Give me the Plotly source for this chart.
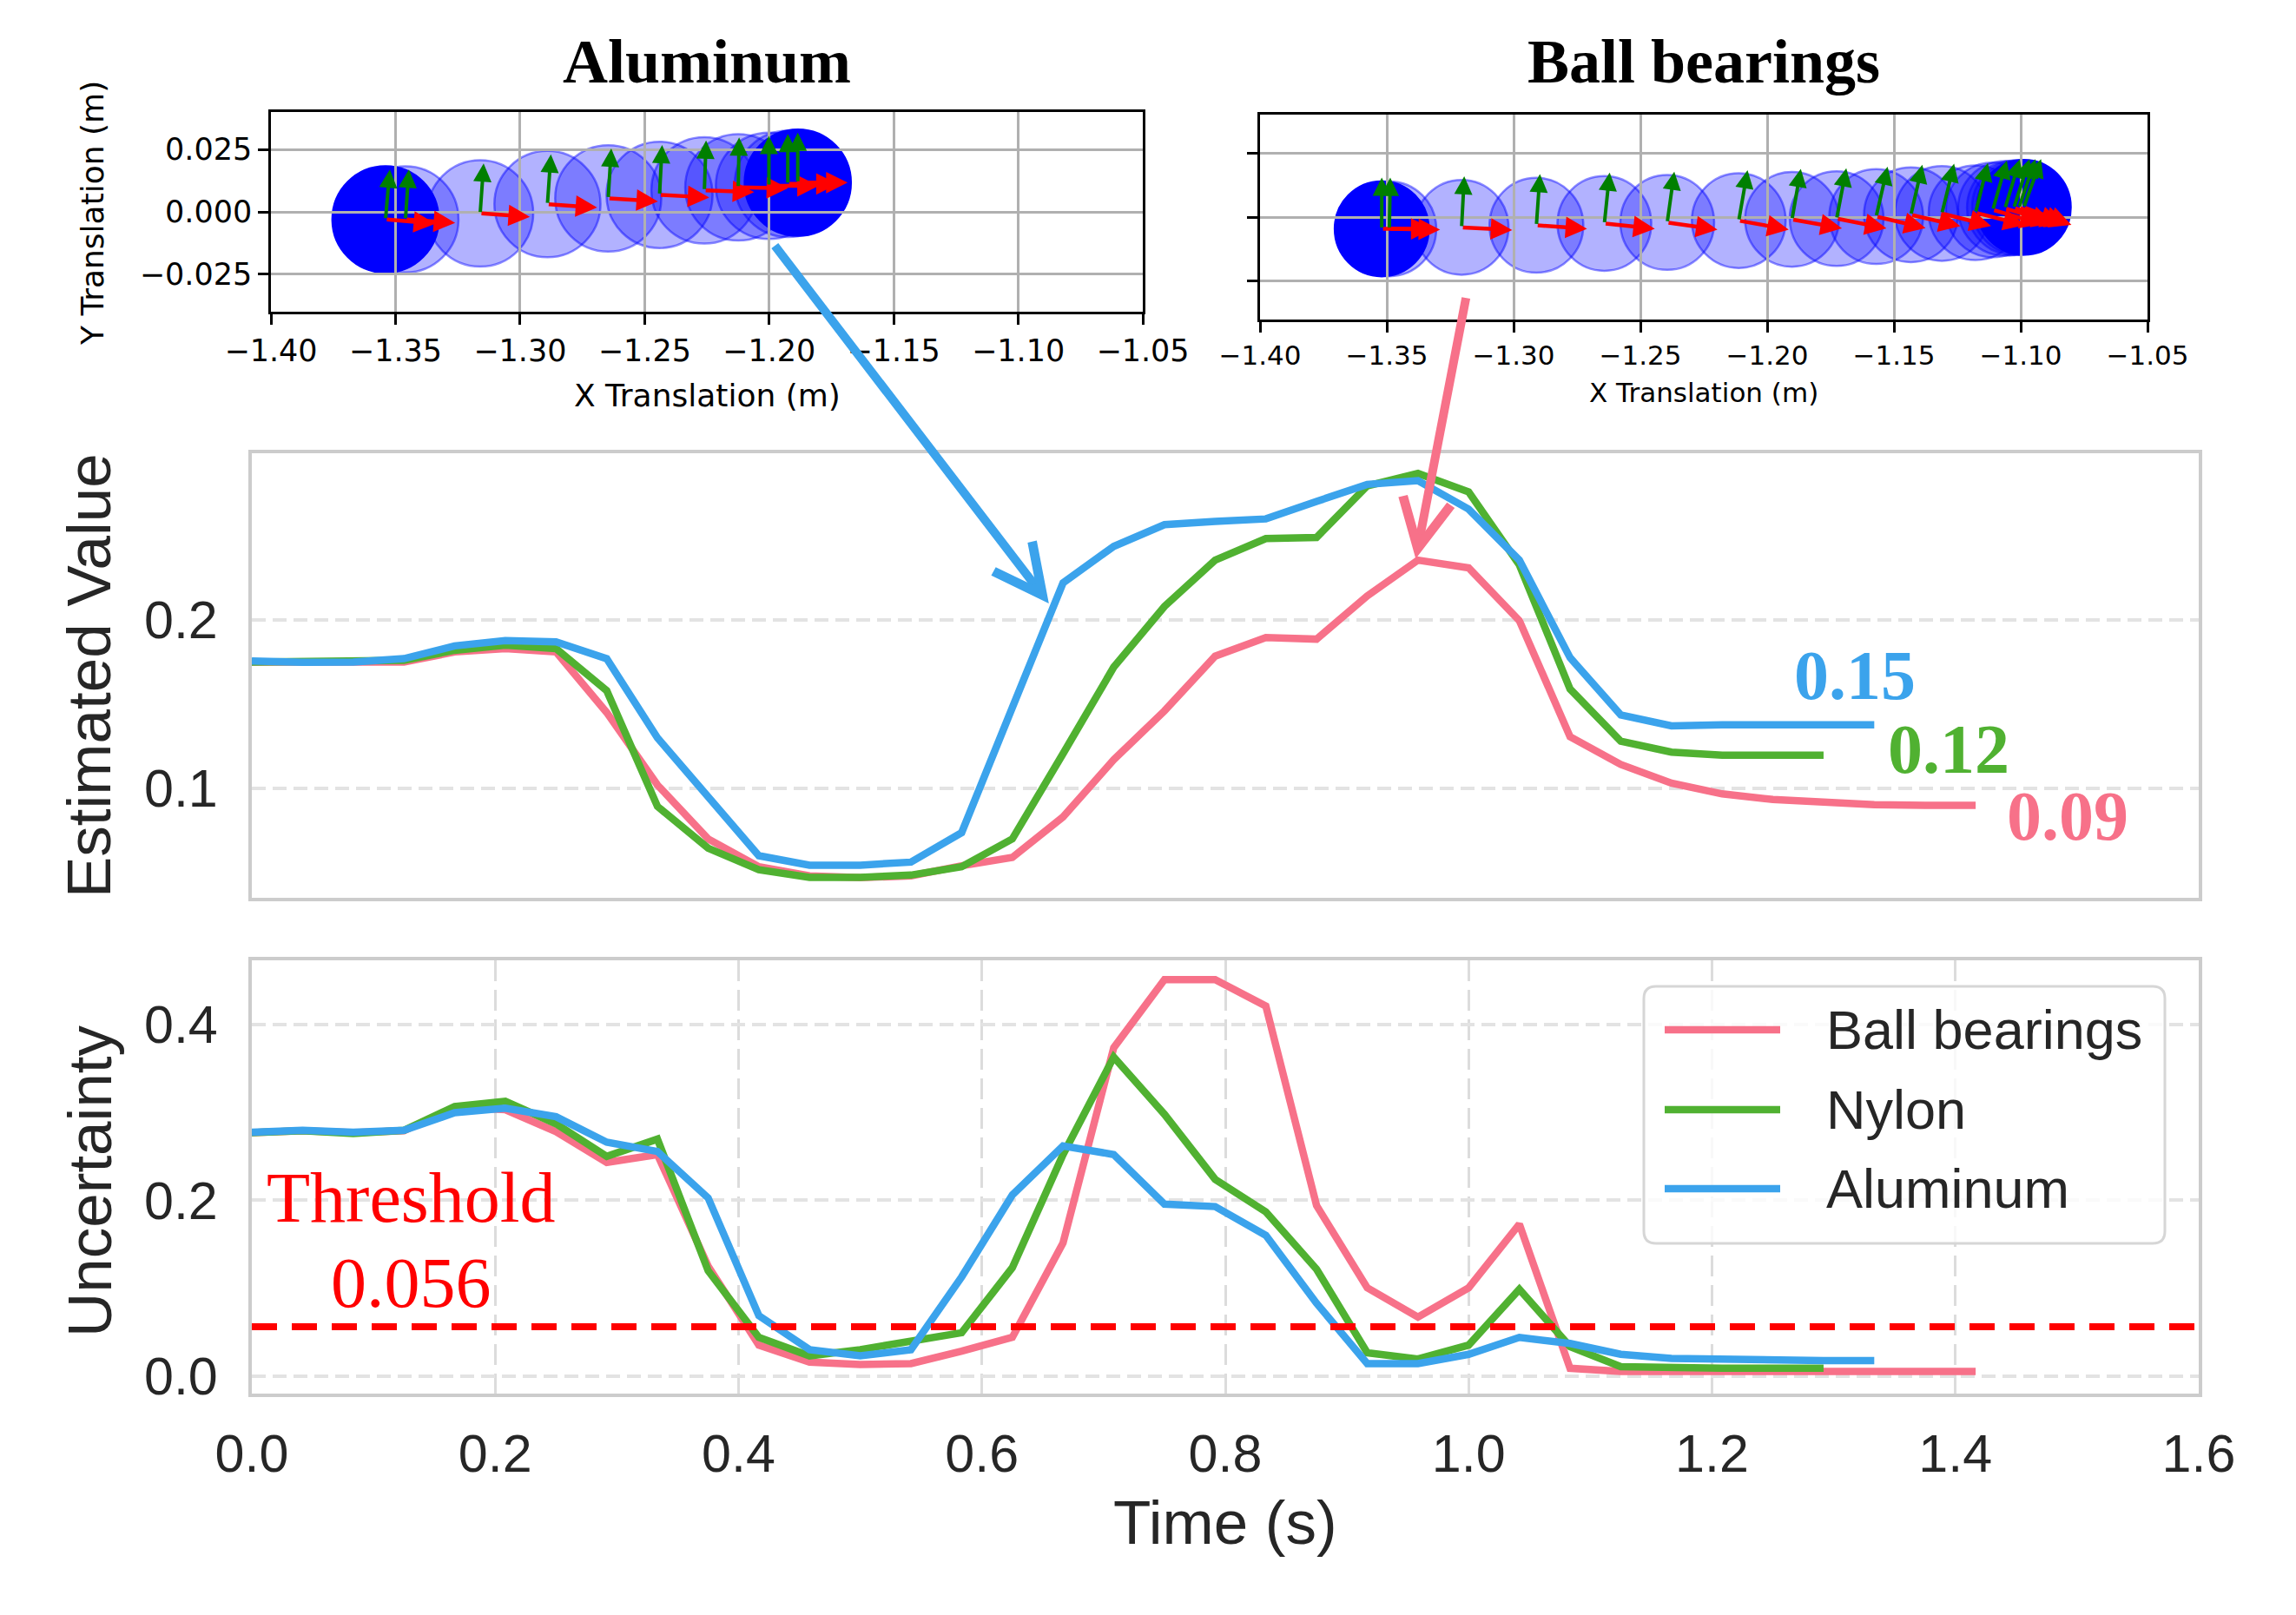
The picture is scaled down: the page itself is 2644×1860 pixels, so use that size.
import numpy as np
import plotly.graph_objects as go

FIG_W, FIG_H = 2644, 1860
SAMPLE_RATE_HZ = 24.0

# ---------------- data ----------------
series_names = ["Ball bearings", "Nylon", "Aluminum"]
series_colors = ["#f77189", "#50b131", "#3ba3ec"]

est_ball = [0.175, 0.175, 0.175, 0.175, 0.181, 0.183, 0.181, 0.145, 0.102, 0.070,
            0.0535, 0.048, 0.047, 0.048, 0.054, 0.059, 0.083, 0.117, 0.146, 0.1785,
            0.1895, 0.1886, 0.2143, 0.2355, 0.2309, 0.1996, 0.1307, 0.1142, 0.1031, 0.0967,
            0.0934, 0.0915, 0.0903, 0.0899, 0.0899]
est_nylon = [0.175, 0.175, 0.175, 0.176, 0.182, 0.185, 0.183, 0.158, 0.0893, 0.0645,
             0.0517, 0.0471, 0.0471, 0.0485, 0.0535, 0.070, 0.1206, 0.172, 0.208, 0.2355,
             0.2483, 0.249, 0.2796, 0.287, 0.276, 0.2327, 0.159, 0.128, 0.1215, 0.1197,
             0.1197, 0.1197]
est_alu = [0.1757, 0.1748, 0.175, 0.177, 0.1846, 0.1877, 0.187, 0.177, 0.130, 0.095,
           0.060, 0.0544, 0.0544, 0.0562, 0.0737, 0.148, 0.222, 0.2437, 0.2566, 0.2585,
           0.260, 0.2704, 0.2805, 0.2827, 0.2658, 0.2355, 0.1776, 0.1436, 0.1371, 0.1377,
           0.1377, 0.1377, 0.1377]

unc_ball = [0.277, 0.279, 0.277, 0.279, 0.306, 0.303, 0.278, 0.243, 0.252, 0.125,
            0.0352, 0.0159, 0.013, 0.0141, 0.0282, 0.044, 0.1515, 0.3736, 0.451, 0.451,
            0.421, 0.194, 0.1004, 0.067, 0.1004, 0.1727, 0.0088, 0.0053, 0.0053, 0.0053,
            0.0053, 0.0053, 0.0053, 0.0053, 0.0053]
unc_nylon = [0.277, 0.279, 0.276, 0.2795, 0.3066, 0.3126, 0.287, 0.250, 0.2696, 0.1198,
             0.044, 0.0229, 0.030, 0.0405, 0.0493, 0.1233, 0.252, 0.363, 0.2978, 0.2238,
             0.1868, 0.1216, 0.0264, 0.0194, 0.0352, 0.0987, 0.0335, 0.0106, 0.0088, 0.0088,
             0.0088, 0.0088]
unc_alu = [0.2774, 0.2795, 0.2774, 0.2795, 0.2996, 0.3048, 0.295, 0.266, 0.2555, 0.2026,
           0.0687, 0.030, 0.0229, 0.030, 0.1128, 0.206, 0.2618, 0.252, 0.1956, 0.1928,
           0.160, 0.0828, 0.0141, 0.0141, 0.0247, 0.044, 0.037, 0.0247, 0.020, 0.0187,
           0.0176, 0.0176, 0.0176]

final_labels = ["0.09", "0.12", "0.15"]
threshold = 0.056

time_ticks = [0.0, 0.2, 0.4, 0.6, 0.8, 1.0, 1.2, 1.4, 1.6]
est_ticks = [0.1, 0.2]
unc_ticks = [0.0, 0.2, 0.4]
inset_x_ticks = [-1.40, -1.35, -1.30, -1.25, -1.20, -1.15, -1.10, -1.05]
inset_y_ticks = [-0.025, 0.0, 0.025]

# trajectory snapshots (center x, center y, heading deg)
al_x = [-1.354, -1.346, -1.316, -1.289, -1.2646, -1.244, -1.226, -1.2124, -1.2001, -1.1925, -1.1885]
al_y = [-0.003, -0.003, -0.0006, 0.0031, 0.0054, 0.0068, 0.0086, 0.0098, 0.0104, 0.0112, 0.0117]
al_theta = [-5, -4, -4, -4, -3.5, -3, -2, -1, 0, 0, 0]
al_radius = 0.0213

bb_x = [-1.352, -1.349, -1.3205, -1.291, -1.2642, -1.2394, -1.2112, -1.1902, -1.1726,
        -1.157, -1.1433, -1.1311, -1.1178, -1.111, -1.1062, -1.1027, -1.1007, -1.0988]
bb_y = [-0.0046, -0.0046, -0.004, -0.0032, -0.0025, -0.0021, -0.0014, -0.0009, -0.0006,
        0.0002, 0.0009, 0.0014, 0.0017, 0.0028, 0.0034, 0.0036, 0.0037, 0.0038]
bb_theta = [0, -1, -3, -4, -6, -8, -10, -10, -11, -13, -13, -14, -14, -16, -17, -18, -19, -20]
bb_radius = 0.0185
frame_axis_len = 0.02

# connector arrows (middle-panel data coords): tail -> head
alu_arrow = dict(tail=(0.429, 0.423), head=(0.655, 0.2098))
ball_arrow = dict(tail=(0.998, 0.392), head=(0.9565, 0.2363))

# ---------------- helpers ----------------
def pxx(x):
    return x / FIG_W

def pxy(y):
    return 1 - y / FIG_H

SANS = "Liberation Sans, Arial, sans-serif"
SERIF = "Liberation Serif, Times New Roman, serif"
DJV = "DejaVu Sans, sans-serif"
TXT = "#262626"
LW = 8.5

fig = go.Figure()

for name, color, est, unc in zip(series_names, series_colors,
                                  [est_ball, est_nylon, est_alu],
                                  [unc_ball, unc_nylon, unc_alu]):
    t = np.arange(len(est)) / SAMPLE_RATE_HZ
    fig.add_trace(go.Scatter(x=t, y=est, mode="lines", name=name, showlegend=False,
                             line=dict(color=color, width=LW), xaxis="x", yaxis="y",
                             hoverinfo="skip"))
    tu = np.arange(len(unc)) / SAMPLE_RATE_HZ
    fig.add_trace(go.Scatter(x=tu, y=unc, mode="lines", name=name, showlegend=False,
                             line=dict(color=color, width=LW), xaxis="x2", yaxis="y2",
                             hoverinfo="skip"))

# invisible traces to anchor inset subplots
fig.add_trace(go.Scatter(x=al_x, y=al_y, mode="markers", marker=dict(opacity=0),
                         showlegend=False, xaxis="x3", yaxis="y3", hoverinfo="skip"))
fig.add_trace(go.Scatter(x=bb_x, y=bb_y, mode="markers", marker=dict(opacity=0),
                         showlegend=False, xaxis="x4", yaxis="y4", hoverinfo="skip"))

shapes = []
annotations = []

# threshold line
shapes.append(dict(type="line", xref="x2 domain", yref="y2", x0=0, x1=1,
                   y0=threshold, y1=threshold, layer="above",
                   line=dict(color="#ff0000", width=8, dash="29px,17px")))

# inset circles + frame arrows
def add_inset(xs, ys, ths, r, xa, ya):
    n = len(xs)
    for i, (cx, cy) in enumerate(zip(xs, ys)):
        solid = (i == 0 or i == n - 1)
        shapes.append(dict(type="circle", xref=xa, yref=ya, layer="below",
                           x0=cx - r, x1=cx + r, y0=cy - r, y1=cy + r,
                           fillcolor="rgb(0,0,255)" if solid else "rgba(0,0,255,0.30)",
                           line=dict(color="rgba(0,0,255,0.45)" if not solid else "rgb(0,0,255)",
                                     width=2.5)))
    for cx, cy, th in zip(xs, ys, ths):
        a = np.deg2rad(th)
        rx, ry = cx + frame_axis_len * np.cos(a), cy + frame_axis_len * np.sin(a)
        gx, gy = cx - frame_axis_len * np.sin(a), cy + frame_axis_len * np.cos(a)
        annotations.append(dict(x=rx, y=ry, ax=cx, ay=cy, xref=xa, yref=ya, axref=xa, ayref=ya,
                                text="", showarrow=True, arrowhead=2, arrowsize=1.1,
                                arrowwidth=4.5, arrowcolor="#ff0000"))
        annotations.append(dict(x=gx, y=gy, ax=cx, ay=cy, xref=xa, yref=ya, axref=xa, ayref=ya,
                                text="", showarrow=True, arrowhead=2, arrowsize=1.05,
                                arrowwidth=4, arrowcolor="#007f00"))

add_inset(al_x, al_y, al_theta, al_radius, "x3", "y3")
add_inset(bb_x, bb_y, bb_theta, bb_radius, "x4", "y4")

# connector arrows
for arr, color in [(alu_arrow, series_colors[2]), (ball_arrow, series_colors[0])]:
    annotations.append(dict(x=arr["head"][0], y=arr["head"][1], ax=arr["tail"][0], ay=arr["tail"][1],
                            xref="x", yref="y", axref="x", ayref="y", text="", showarrow=True,
                            arrowhead=5, arrowsize=1.1, arrowwidth=10, arrowcolor=color))


def label(text, x, y, family, size, color, angle=0, xanchor="center"):
    annotations.append(dict(text=text, x=pxx(x), y=pxy(y), xref="paper", yref="paper",
                            xanchor=xanchor, yanchor="middle", showarrow=False,
                            textangle=angle, font=dict(family=family, size=size, color=color)))

# titles of insets
label("<b>Aluminum</b>", 814, 71, SERIF, 72, "black")
label("<b>Ball bearings</b>", 1962, 71, SERIF, 72, "black")
label("X Translation (m)", 814, 455, DJV, 36, "black")
label("X Translation (m)", 1962, 452, DJV, 31, "black")
label("Y Translation (m)", 106, 246, DJV, 36, "black", angle=-90)

# main axis titles
label("Estimated Value", 103, 778, SANS, 71, TXT, angle=-90)
label("Uncertainty", 103, 1360, SANS, 71, TXT, angle=-90)
label("Time (s)", 1411, 1753, SANS, 71, TXT)

# final values
for lab, color, pos in zip(final_labels, series_colors, [(2381, 940), (2244, 863), (2136, 778)]):
    label("<b>%s</b>" % lab, pos[0], pos[1], SERIF, 80, color)

# threshold text
label("Threshold", 473, 1379, SERIF, 82, "#ff0000")
label("%.3f" % threshold, 473, 1477, SERIF, 82, "#ff0000")

# custom legend (rounded frame)
lx0, lx1, ly0, ly1 = pxx(1893), pxx(2493), pxy(1432), pxy(1136)
rx_, ry_ = 14 / FIG_W, 14 / FIG_H
legend_path = (f"M{lx0+rx_},{ly0} L{lx1-rx_},{ly0} Q{lx1},{ly0} {lx1},{ly0+ry_} "
               f"L{lx1},{ly1-ry_} Q{lx1},{ly1} {lx1-rx_},{ly1} L{lx0+rx_},{ly1} "
               f"Q{lx0},{ly1} {lx0},{ly1-ry_} L{lx0},{ly0+ry_} Q{lx0},{ly0} {lx0+rx_},{ly0} Z")
shapes.append(dict(type="path", xref="paper", yref="paper", path=legend_path, layer="above",
                   fillcolor="rgba(255,255,255,0.8)", line=dict(color="#d6d6d6", width=3)))
for name, color, ly in zip(series_names, series_colors, [1186, 1278, 1369]):
    shapes.append(dict(type="line", xref="paper", yref="paper", x0=pxx(1917), x1=pxx(2050),
                       y0=pxy(ly), y1=pxy(ly), layer="above", line=dict(color=color, width=LW)))
    label(name, 2101, ly, SANS, 63, TXT, xanchor="left")

main_line = dict(showline=True, mirror=True, linecolor="#cccccc", linewidth=4, zeroline=False)
hgrid = dict(showgrid=True, gridcolor="#e3e3e3", gridwidth=3.5, griddash="16px,8px")
inset_ax = dict(showline=True, mirror=True, linecolor="black", linewidth=2.5, zeroline=False,
                showgrid=True, gridcolor="#b0b0b0", gridwidth=2.5, ticks="outside",
                ticklen=12, tickwidth=2.5, tickcolor="black")

fig.update_layout(
    width=FIG_W, height=FIG_H, margin=dict(l=0, r=0, t=0, b=0, pad=0, autoexpand=False),
    paper_bgcolor="white", plot_bgcolor="white", showlegend=False,
    xaxis=dict(domain=[pxx(290), pxx(2532)], range=[0, 1.6], anchor="y", showticklabels=False,
               showgrid=False, ticks="", automargin=False, **main_line),
    yaxis=dict(domain=[pxy(1034), pxy(522)], range=[0.035, 0.299], anchor="x",
               tickvals=est_ticks, ticktext=["%.1f" % v for v in est_ticks], ticks="",
               ticklabelstandoff=23, tickfont=dict(family=SANS, size=61, color=TXT),
               automargin=False, **hgrid, **main_line),
    xaxis2=dict(domain=[pxx(290), pxx(2532)], range=[0, 1.6], anchor="y2",
                tickvals=time_ticks, ticktext=["%.1f" % v for v in time_ticks], ticks="",
                ticklabelstandoff=13, tickfont=dict(family=SANS, size=61, color=TXT),
                showgrid=True, gridcolor="#dcdcdc", gridwidth=3, griddash="24px,10px",
                automargin=False, **main_line),
    yaxis2=dict(domain=[pxy(1605), pxy(1106)], range=[-0.020, 0.473], anchor="x2",
                tickvals=unc_ticks, ticktext=["%.1f" % v for v in unc_ticks], ticks="",
                ticklabelstandoff=23, tickfont=dict(family=SANS, size=61, color=TXT),
                automargin=False, **hgrid, **main_line),
    xaxis3=dict(domain=[pxx(312), pxx(1316)], range=[-1.40, -1.05], anchor="y3",
                tickvals=inset_x_ticks, tickformat=".2f", automargin=False,
                tickfont=dict(family=DJV, size=35, color="black"), **inset_ax),
    yaxis3=dict(domain=[pxy(359), pxy(129)], range=[-0.04, 0.04], anchor="x3",
                tickvals=inset_y_ticks, tickformat=".3f", automargin=False,
                tickfont=dict(family=DJV, size=35, color="black"), **inset_ax),
    xaxis4=dict(domain=[pxx(1451), pxx(2473)], range=[-1.40, -1.05], anchor="y4",
                tickvals=inset_x_ticks, tickformat=".2f", automargin=False,
                tickfont=dict(family=DJV, size=31, color="black"), **inset_ax),
    yaxis4=dict(domain=[pxy(368), pxy(132)], range=[-0.04, 0.04], anchor="x4",
                tickvals=inset_y_ticks, showticklabels=False, automargin=False, **inset_ax),
    shapes=shapes, annotations=annotations,
)

fig.write_html("out.html")
